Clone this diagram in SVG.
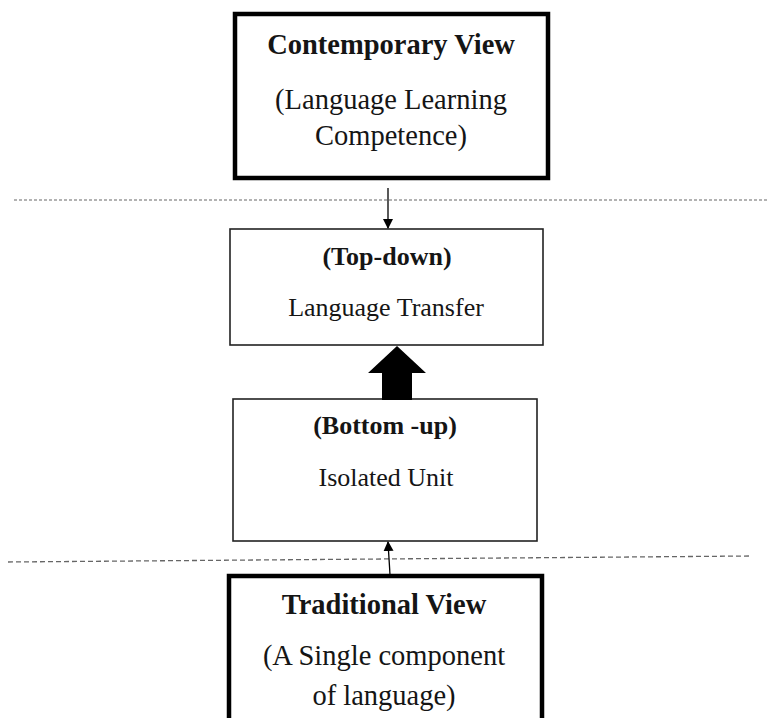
<svg xmlns="http://www.w3.org/2000/svg" width="768" height="718" viewBox="0 0 768 718">
<style>
.box{fill:#fff;stroke:#222;}
.thick{stroke-width:4.5;stroke:#000;}
.thin{stroke-width:1.6;}
text{font-family:"Liberation Serif","Times New Roman",serif;fill:#151515;text-anchor:middle;}
.b{font-weight:bold;}
.big{font-size:28.5px;}
.mid{font-size:26px;}
</style>
<defs>
<marker id="ah" markerWidth="10" markerHeight="10" refX="9" refY="5" orient="auto" markerUnits="userSpaceOnUse">
<path d="M0,0 L10,5 L0,10 Z" fill="#000"/>
</marker>
</defs>
<rect width="768" height="718" fill="#fff"/>
<g id="separators">
<line x1="14" y1="200" x2="768" y2="200" stroke="#999" stroke-width="1.5" stroke-dasharray="3,2"/>
<line x1="8" y1="562" x2="752" y2="556" stroke="#666" stroke-width="1.3" stroke-dasharray="5,3"/>
</g>
<g id="contemporary">
<rect class="box thick" x="235" y="14" width="313" height="164"/>
<text class="b big" x="391" y="54">Contemporary View</text>
<text class="big" x="391" y="109">(Language Learning</text>
<text class="big" x="391" y="145">Competence)</text>
</g>
<g id="topdown">
<rect class="box thin" x="230" y="229" width="313" height="116"/>
<text class="b mid" x="387" y="265">(Top-down)</text>
<text class="mid" x="386" y="316">Language Transfer</text>
</g>
<g id="bottomup">
<rect class="box thin" x="233" y="399" width="304" height="142"/>
<text class="b mid" x="385" y="434">(Bottom -up)</text>
<text class="mid" x="386" y="486">Isolated Unit</text>
</g>
<g id="traditional">
<rect class="box thick" x="229" y="576" width="313" height="160"/>
<text class="b big" x="384" y="614">Traditional View</text>
<text class="big" x="384" y="665">(A Single component</text>
<text class="big" x="384" y="705">of language)</text>
</g>
<g id="connectors">
<line x1="388" y1="188" x2="388" y2="228" stroke="#000" stroke-width="1.3" marker-end="url(#ah)"/>
<path d="M382,400 L382,373 L368,373 L397,346 L426,373 L412,373 L412,400 Z" fill="#000"/>
<line x1="390" y1="575" x2="388" y2="542" stroke="#000" stroke-width="1.3" marker-end="url(#ah)"/>
</g>
</svg>
